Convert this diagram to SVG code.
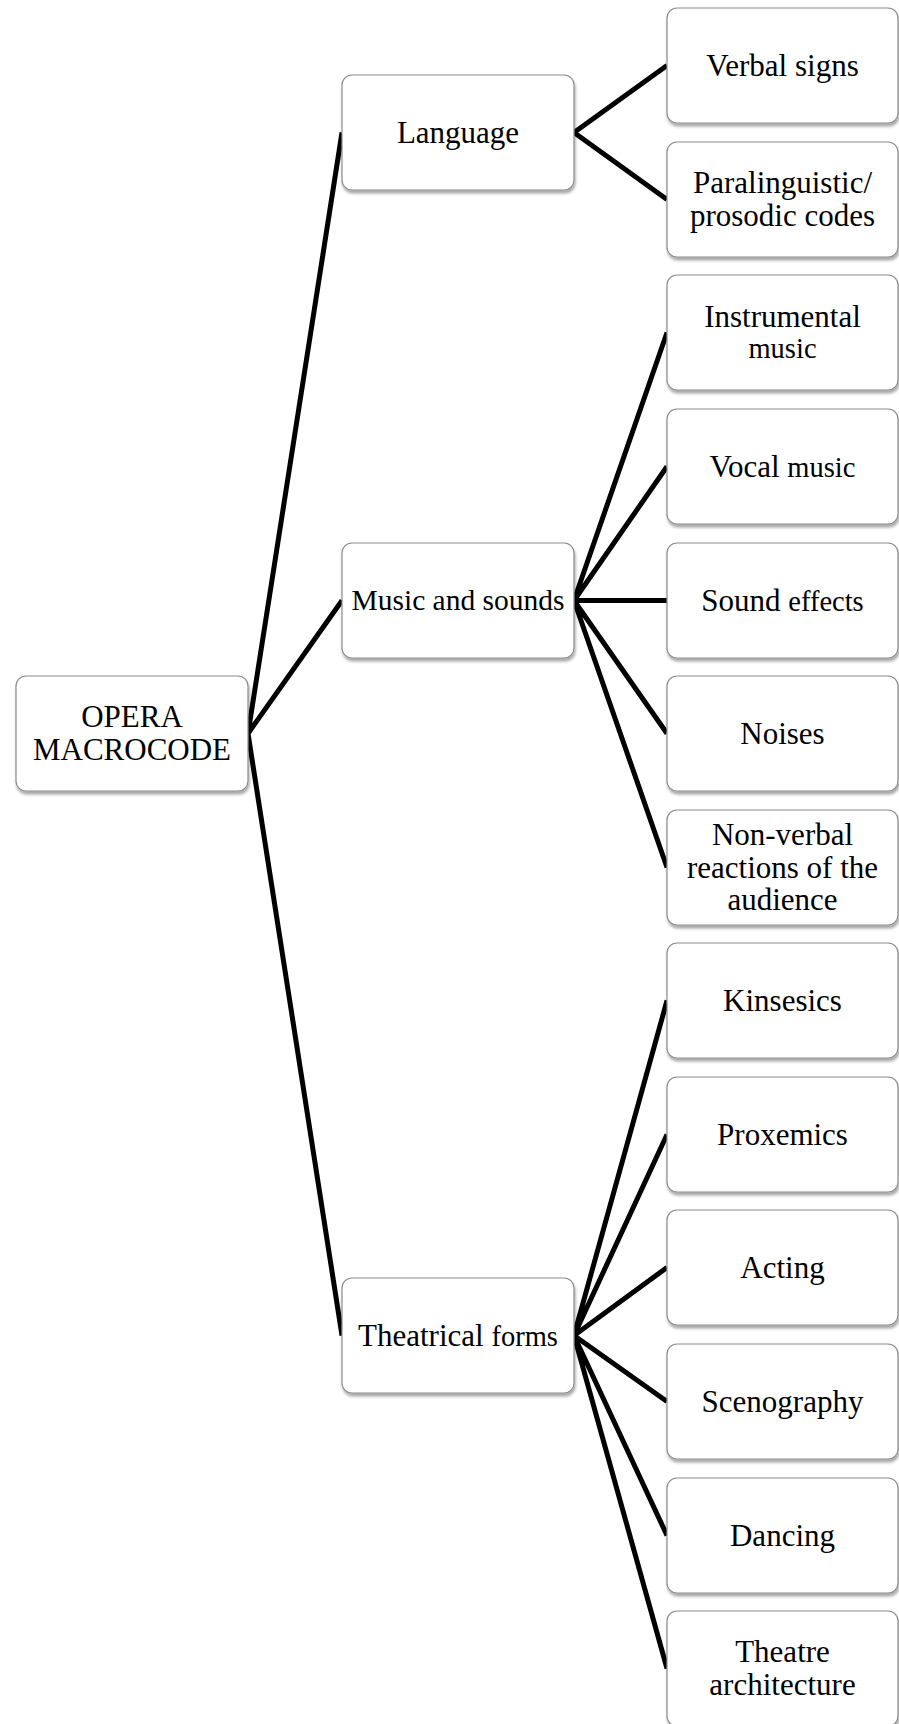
<svg xmlns="http://www.w3.org/2000/svg" width="899" height="1724" viewBox="0 0 899 1724">
<style>
.box{fill:#fff;stroke:#8c8c8c;stroke-width:1.2;filter:url(#sh)}
.t{font-family:"Liberation Serif","Times New Roman",serif;font-size:31px;fill:#000;text-anchor:middle}
.s{font-size:28.5px}
.c{stroke:#000;stroke-width:5;fill:none}
</style>
<defs>
<filter id="sh" x="-10%" y="-10%" width="125%" height="130%">
<feGaussianBlur in="SourceAlpha" stdDeviation="1.8"/>
<feOffset dx="1" dy="3" result="b"/>
<feComponentTransfer><feFuncA type="linear" slope="0.35"/></feComponentTransfer>
<feMerge><feMergeNode/><feMergeNode in="SourceGraphic"/></feMerge>
</filter>
</defs>
<rect width="899" height="1724" fill="#fff"/>
<g id="connectors">
<path class="c" d="M248,733.5L342,132.5M248,733.5L342,600.5M248,733.5L342,1335.5"/>
<path class="c" d="M574,132.5L667,65.5M574,132.5L667,199.5"/>
<path class="c" d="M574,600.5L667,332.5M574,600.5L667,466.5M574,600.5L667,600.5M574,600.5L667,733.5M574,600.5L667,867.5"/>
<path class="c" d="M574,1335.5L667,1000.5M574,1335.5L667,1134.5M574,1335.5L667,1267.5M574,1335.5L667,1401.5M574,1335.5L667,1535.5M574,1335.5L667,1668.5"/>
</g>
<g id="root"><rect class="box" x="16" y="676" width="232" height="115" rx="10"/><text class="t" x="132" y="727">OPERA</text><text class="t" x="132" y="760">MACROCODE</text></g>
<g id="language"><rect class="box" x="342" y="75" width="232" height="115" rx="10"/><text class="t" x="458" y="142.5">Language</text></g>
<g id="music"><rect class="box" x="342" y="543" width="232" height="115" rx="10"/><text class="t" x="458" y="610" style="font-size:29.5px">Music and sounds</text></g>
<g id="theatrical"><rect class="box" x="342" y="1278" width="232" height="115" rx="10"/><text class="t" x="458" y="1345.5">Theatrical <tspan class="s">forms</tspan></text></g>
<g id="verbal"><rect class="box" x="667" y="8" width="231" height="115" rx="10"/><text class="t" x="782.5" y="75.5">Verbal signs</text></g>
<g id="paraling"><rect class="box" x="667" y="142" width="231" height="115" rx="10"/><text class="t" x="782.5" y="193">Paralinguistic/</text><text class="t" x="782.5" y="226">prosodic codes</text></g>
<g id="instrumental"><rect class="box" x="667" y="275" width="231" height="115" rx="10"/><text class="t" x="782.5" y="327">Instrumental</text><text class="t s" x="782.5" y="358">music</text></g>
<g id="vocal"><rect class="box" x="667" y="409" width="231" height="115" rx="10"/><text class="t" x="782.5" y="476.5">Vocal <tspan class="s">music</tspan></text></g>
<g id="sound"><rect class="box" x="667" y="543" width="231" height="115" rx="10"/><text class="t" x="782.5" y="610.5">Sound <tspan class="s">effects</tspan></text></g>
<g id="noises"><rect class="box" x="667" y="676" width="231" height="115" rx="10"/><text class="t" x="782.5" y="743.5">Noises</text></g>
<g id="nonverbal"><rect class="box" x="667" y="810" width="231" height="115" rx="10"/><text class="t" x="782.5" y="845">Non-verbal</text><text class="t" x="782.5" y="877.5">reactions of the</text><text class="t" x="782.5" y="910">audience</text></g>
<g id="kinsesics"><rect class="box" x="667" y="943" width="231" height="115" rx="10"/><text class="t" x="782.5" y="1010.5">Kinsesics</text></g>
<g id="proxemics"><rect class="box" x="667" y="1077" width="231" height="115" rx="10"/><text class="t" x="782.5" y="1144.5">Proxemics</text></g>
<g id="acting"><rect class="box" x="667" y="1210" width="231" height="115" rx="10"/><text class="t" x="782.5" y="1277.5">Acting</text></g>
<g id="scenography"><rect class="box" x="667" y="1344" width="231" height="115" rx="10"/><text class="t" x="782.5" y="1411.5">Scenography</text></g>
<g id="dancing"><rect class="box" x="667" y="1478" width="231" height="115" rx="10"/><text class="t" x="782.5" y="1545.5">Dancing</text></g>
<g id="theatre"><rect class="box" x="667" y="1611" width="231" height="115" rx="10"/><text class="t" x="782.5" y="1662">Theatre</text><text class="t" x="782.5" y="1695">architecture</text></g>
</svg>
